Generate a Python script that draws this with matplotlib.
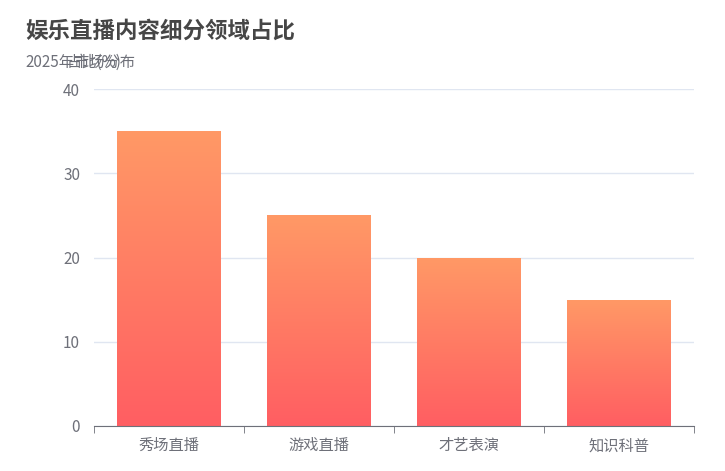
import numpy as np
import matplotlib
matplotlib.use('Agg')
import matplotlib.pyplot as plt
from matplotlib.colors import LinearSegmentedColormap
from matplotlib.patches import Rectangle

plt.rcParams['font.family'] = ['Noto Sans CJK SC', 'DejaVu Sans']

categories = ['秀场直播', '游戏直播', '才艺表演', '知识科普']
values = [35, 25, 20, 15]
title = '娱乐直播内容细分领域占比'
subtitle = '2025年市场分布'
y_name = '占比(%)'
y_ticks = [0, 10, 20, 30, 40]

W, H = 725, 471
fig = plt.figure(figsize=(W / 100, H / 100), dpi=100)
ax = fig.add_axes([94 / W, 1 - 426 / H, 600 / W, 337 / H])

cmap = LinearSegmentedColormap.from_list('grad', ['#ff5e62', '#ff9966'])
grad = np.linspace(0, 1, 256).reshape(-1, 1)
bw = 0.69
x = np.arange(len(categories))
for xi, v in zip(x, values):
    rect = Rectangle((xi - bw / 2, 0), bw, v, facecolor='none', edgecolor='none')
    ax.add_patch(rect)
    im = ax.imshow(grad, cmap=cmap, origin='lower', aspect='auto',
                   extent=(xi - bw / 2, xi + bw / 2, 0, v), zorder=2)
    im.set_clip_path(rect)

ax.set_xlim(-0.5, len(categories) - 0.5)
ax.set_ylim(0, 40)
ax.set_yticks(y_ticks)
ax.set_yticklabels([str(t) for t in y_ticks], color='#6e7079', fontsize=11)
ax.set_xticks(x)
ax.set_xticklabels(categories, color='#6e7079', fontsize=11)
ax.set_xticks(np.arange(len(categories) + 1) - 0.5, minor=True)
ax.tick_params(axis='x', which='major', length=0, pad=8)
ax.tick_params(axis='x', which='minor', length=5, color='#6e7079')
ax.tick_params(axis='y', length=0, pad=10)
ax.yaxis.grid(True, color='#e0e6f1', linewidth=1)
ax.set_axisbelow(True)
for s in ['top', 'right', 'left']:
    ax.spines[s].set_visible(False)
ax.spines['bottom'].set_color('#6e7079')
ax.spines['bottom'].set_zorder(3)

fig.text(25 / W, 1 - 31 / H, title, fontsize=16.2, fontweight='bold', color='#464646', va='center')
fig.text(25 / W, 1 - 62 / H, subtitle, fontsize=11, color='#6e7079', va='center')
fig.text(94 / W, 1 - 62 / H, y_name, fontsize=11, color='#6e7079', va='center', ha='center')

fig.savefig('out.png', dpi=100)
